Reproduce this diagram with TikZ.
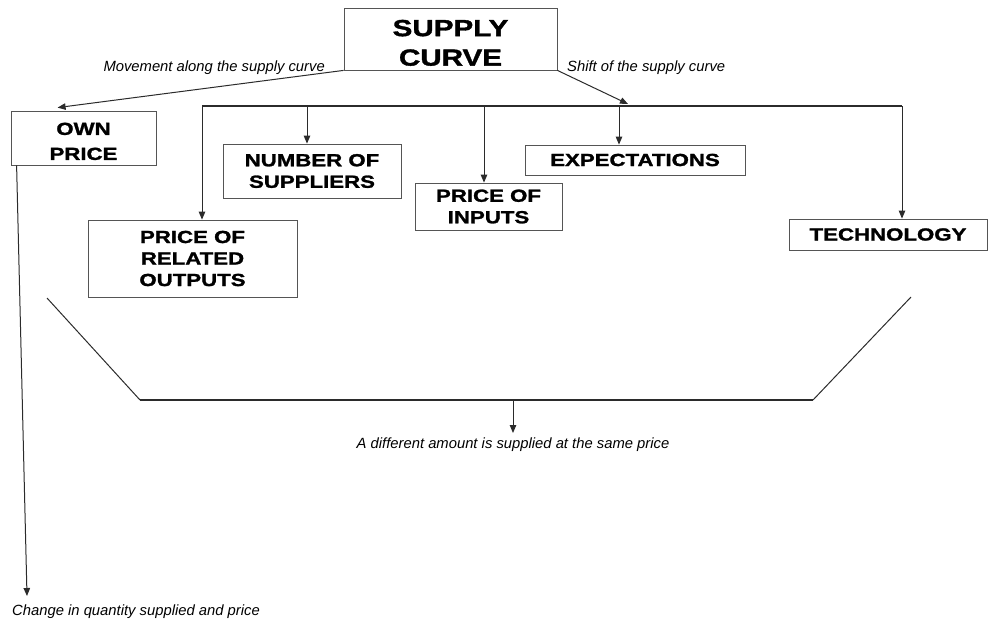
\documentclass[tikz,border=0pt]{standalone}
\usepackage{fontspec}
\usepackage{tikz}
\usetikzlibrary{calc,arrows.meta}
\setmainfont{Liberation Sans}
\newfontfamily\capsfont[FakeStretch=1.27,FakeBold=1.5]{Liberation Sans Bold}
\definecolor{ink}{HTML}{2B2B2B}
\definecolor{edge}{HTML}{555555}
\tikzset{box/.style={draw=edge,line width=0.8pt,inner sep=0pt,align=center,
    font=\capsfont\fontsize{17.5}{21.5}\selectfont},
  arr/.style={ink,line width=1pt,-{Triangle[length=8pt,width=6.5pt]}},
  lbl/.style={inner sep=0pt,font=\itshape\fontsize{14.8}{17}\selectfont}}

\begin{document}
\begin{tikzpicture}[x=1pt,y=-1pt]
\useasboundingbox (0,0) rectangle (990,621);
\node[box,minimum width=213pt,minimum height=62pt,font=\capsfont\fontsize{23.3}{29.5}\selectfont,text height=53.5pt] (top) at (450.5,39) {SUPPLY\\CURVE};
\node[box,minimum width=145pt,minimum height=54pt,font=\capsfont\fontsize{17.5}{25}\selectfont,text height=44pt] (own) at (83.5,138) {OWN\\PRICE};
\node[box,minimum width=209pt,minimum height=77pt] (related) at (192.5,258.5) {PRICE OF\\RELATED\\OUTPUTS};
\node[box,minimum width=178pt,minimum height=54pt] (suppliers) at (312,171) {NUMBER OF\\SUPPLIERS};
\node[box,minimum width=147pt,minimum height=47pt] (inputs) at (488.5,206.5) {PRICE OF\\INPUTS};
\node[box,minimum width=220pt,minimum height=30pt] (expect) at (635,160) {EXPECTATIONS};
\node[box,minimum width=198pt,minimum height=31pt] (tech) at (888,234.5) {TECHNOLOGY};
% labels on the two branches
\node[lbl,anchor=base east] (mvlbl) at (325,71) {Movement along the supply curve};
\node[lbl,anchor=base west] (shlbl) at (567,71) {Shift of the supply curve};
\node[lbl,anchor=base] (samelbl) at (513,448) {A different amount is supplied at the same price};
\node[lbl,anchor=base west] (chglbl) at (12,615) {Change in quantity supplied and price};
% the bar over the five shifters
\coordinate (b1) at (202,106); \coordinate (b2) at (307,106); \coordinate (b3) at (484,106);
\coordinate (b4) at (619,106); \coordinate (b5) at (902,106);
\coordinate (shtip) at (628,104); \coordinate (chgtip) at (27,596); \coordinate (sametip) at (513,433);
\draw[arr] (top.south west) -- ([xshift=47pt,yshift=3pt]own.north west);
\draw[arr] (top.south east) -- (shtip);
\draw[ink,line width=1.1pt] (b1) -- (b5);
\draw[arr] (b1) -- (b1 |- related.north);
\draw[arr] (b2) -- (b2 |- suppliers.north);
\draw[arr] (b3) -- (b3 |- inputs.north);
\draw[arr] (b4) -- (b4 |- expect.north);
\draw[arr] (b5) -- (b5 |- tech.north);
\draw[arr] ([xshift=6pt]own.south west) -- (chgtip);
% the funnel
\coordinate (f1) at (47,298); \coordinate (f2) at (140,400); \coordinate (f3) at (813,400); \coordinate (f4) at (911,297);
\draw[ink,line width=1pt] (f1) -- (f2);
\draw[ink,line width=1.8pt] (f2) -- (f3);
\draw[ink,line width=1pt] (f3) -- (f4);
\draw[arr] (f2 -| sametip) -- (sametip);
\end{tikzpicture}
\end{document}
